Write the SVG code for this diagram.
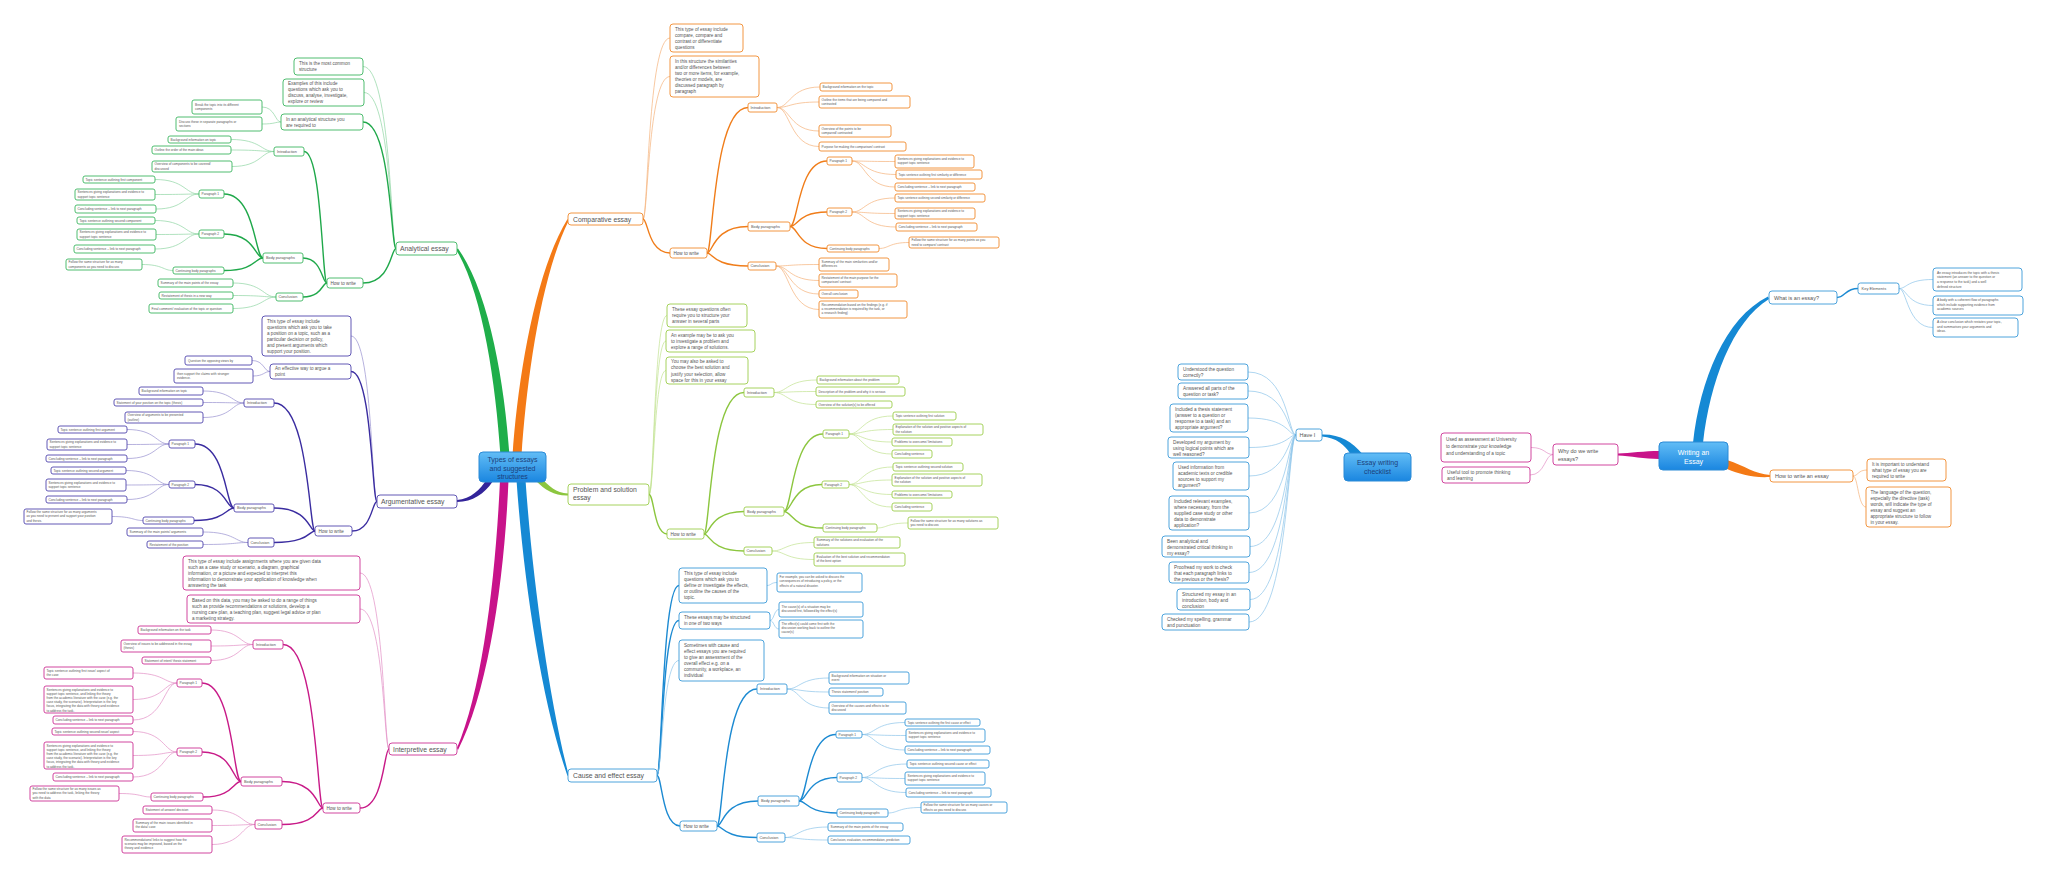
<svg xmlns="http://www.w3.org/2000/svg" width="2048" height="878" viewBox="0 0 2048 878">
<defs>
<linearGradient id="cgr" x1="0" y1="0" x2="0" y2="1"><stop offset="0" stop-color="#62bdf6"/><stop offset="1" stop-color="#1a86e0"/></linearGradient>
<style>
text{font-family:"Liberation Sans",Arial,sans-serif;fill:#555}
.b{fill:#fff;stroke-width:0.9}
.ctr{fill:url(#cgr);stroke:#2a8ad6;stroke-width:1}
.g{stroke:#3cb560}.o{stroke:#f08a2c}.n{stroke:#5046ad}.l{stroke:#9ccd4c}.m{stroke:#cc3194}.c{stroke:#3a9ad8}
.t1{font-size:6.8px}.t2{font-size:4.6px}.t3{font-size:3.8px}.t4{font-size:3.2px}.t5{font-size:3px}.t6{font-size:4.7px}.t7{font-size:5.5px}.t8{font-size:3.3px}.t9{font-size:4px}
.tc{font-size:7px;fill:#1c3f7a;text-anchor:middle}.tw{font-size:7px;fill:#fff;text-anchor:middle}
path{fill:none}
.Cg{stroke:#1fa84a;stroke-width:1.4}.Tg{stroke:#8fd6a3;stroke-width:0.7}
.Co{stroke:#f07d1a;stroke-width:1.4}.To{stroke:#f5b27a;stroke-width:0.7}
.Cn{stroke:#3a2ca0;stroke-width:1.4}.Tn{stroke:#9891d0;stroke-width:0.7}
.Cl{stroke:#8cc63f;stroke-width:1.4}.Tl{stroke:#c2e290;stroke-width:0.7}
.Cm{stroke:#c81a88;stroke-width:1.4}.Tm{stroke:#e38fc6;stroke-width:0.7}
.Cc{stroke:#1c8ad2;stroke-width:1.4}.Tc{stroke:#8cc4ea;stroke-width:0.7}
.Fg{fill:#1fae4a}.Fo{fill:#f47a16}.Fm{fill:#c8138a}.Fc{fill:#1589d4}.Fn{fill:#33249a}.Fl{fill:#8cc63f}
</style>
</defs>
<rect x="0" y="0" width="2048" height="878" fill="#fff"/>
<g id="connectors">
<!-- main branches -->
<path class="Fg" d="M500.5,456 C495.5,380 482,292 456,249.5 L458,248.5 C488,290 504.5,380 509.5,456 Z"/>
<path class="Fo" d="M512.5,456 C517.5,380 535,272 567.5,219 L568.5,221 C541,276 526.5,380 521.5,456 Z"/>
<path class="Fm" d="M500,480 C495.5,580 482,690 457,748 L458,750 C488,692 504.5,580 508.5,480 Z"/>
<path class="Fc" d="M516.5,480 C523.5,580 541,700 567.5,776 L568.5,774.5 C549,698 532.5,580 525.5,480 Z"/>
<path class="Fn" d="M487.5,478.3 C480,490 471,499 457,500 L457,502 C473,501.5 484,494 492.5,481.7 Z"/>
<path class="Fl" d="M540,477 C549,486 556,493 568,493.5 L568,495.5 C555,496 545,490 536,481 Z"/>
<path class="Fc" d="M1693,443 C1700,380 1725,318 1768,296.5 L1769,299 C1732,322 1710,382 1703,443 Z"/>
<path class="Fo" d="M1727,460 C1745,466 1755,474 1770,475 L1770,477 C1752,478 1740,474 1727,469 Z"/>
<path class="Fm" d="M1618,453.5 C1630,453 1645,451 1659,451 L1659,459 C1645,459 1630,456 1618,455.5 Z"/>
<path class="Fc" d="M1322,434.5 C1340,434 1352,442 1362,453.5 L1350,453.5 C1345,445 1336,437.5 1322,436.5 Z"/>
<!-- analytical -->
<path class="Tg" d="M396,248.5 C391,248.5 391,66.5 363,66.5"/>
<path class="Tg" d="M396,248.5 C391,248.5 391,92.5 364,92.5"/>
<path class="Cg" d="M396,248.5 C391,248.5 391,122 363,122"/>
<path class="Cg" d="M396,248.5 C391,248.5 391,283 363,283"/>
<path class="Tg" d="M281,122 C275,122 275,107 262,107"/>
<path class="Tg" d="M281,122 C275,122 275,124 262,124"/>
<path class="Cg" d="M327,283 C322,283 322,151.5 304,151.5"/>
<path class="Cg" d="M327,283 C322,283 322,258 303,258"/>
<path class="Cg" d="M327,283 C322,283 322,297 303,297"/>
<path class="Tg" d="M274,151.5 C261,151.5 261,139.5 231,139.5"/>
<path class="Tg" d="M274,151.5 C261,151.5 261,150 231,150"/>
<path class="Tg" d="M274,151.5 C261,151.5 261,166.5 232,166.5"/>
<path class="Cg" d="M263,258 C255,258 255,194 224,194"/>
<path class="Cg" d="M263,258 C255,258 255,234 224,234"/>
<path class="Cg" d="M263,258 C255,258 255,270.5 224,270.5"/>
<path class="Tg" d="M199,194 C185,194 185,179.5 155,179.5"/>
<path class="Tg" d="M199,194 C185,194 185,194.5 155,194.5"/>
<path class="Tg" d="M199,194 C185,194 185,209 156,209"/>
<path class="Tg" d="M199,234 C185,234 185,220.5 155,220.5"/>
<path class="Tg" d="M199,234 C185,234 185,234.5 156,234.5"/>
<path class="Tg" d="M199,234 C185,234 185,249 155,249"/>
<path class="Tg" d="M173,270.5 C163,270.5 163,264.5 142,264.5"/>
<path class="Tg" d="M276,297 C263,297 263,283 233,283"/>
<path class="Tg" d="M276,297 C263,297 263,295.5 233,295.5"/>
<path class="Tg" d="M276,297 C263,297 263,308.5 233,308.5"/>
<!-- argumentative -->
<path class="Tn" d="M377,501.5 C372,501.5 372,336 351,336"/>
<path class="Cn" d="M377,501.5 C372,501.5 372,371.5 351,371.5"/>
<path class="Cn" d="M377,501.5 C372,501.5 372,531 352,531"/>
<path class="Tn" d="M270,371.5 C264,371.5 264,360.5 252,360.5"/>
<path class="Tn" d="M270,371.5 C264,371.5 264,376 253,376"/>
<path class="Cn" d="M315,531 C309,531 309,403 274,403"/>
<path class="Cn" d="M315,531 C309,531 309,508 274,508"/>
<path class="Cn" d="M315,531 C309,531 309,542.5 274,542.5"/>
<path class="Tn" d="M244,403 C232,403 232,391 203,391"/>
<path class="Tn" d="M244,403 C232,403 232,402.5 203,402.5"/>
<path class="Tn" d="M244,403 C232,403 232,417.5 203,417.5"/>
<path class="Cn" d="M234,508 C226,508 226,444 195,444"/>
<path class="Cn" d="M234,508 C226,508 226,484.5 195,484.5"/>
<path class="Cn" d="M234,508 C226,508 226,520.5 194,520.5"/>
<path class="Tn" d="M169,444 C156,444 156,429.5 127,429.5"/>
<path class="Tn" d="M169,444 C156,444 156,444.5 127,444.5"/>
<path class="Tn" d="M169,444 C156,444 156,458.5 127,458.5"/>
<path class="Tn" d="M169,484.5 C156,484.5 156,470.5 126,470.5"/>
<path class="Tn" d="M169,484.5 C156,484.5 156,485 126,485"/>
<path class="Tn" d="M169,484.5 C156,484.5 156,499.5 127,499.5"/>
<path class="Tn" d="M143,520.5 C133,520.5 133,516.5 112,516.5"/>
<path class="Tn" d="M248,542.5 C235,542.5 235,532 203,532"/>
<path class="Tn" d="M248,542.5 C235,542.5 235,544.5 203,544.5"/>
<!-- interpretive -->
<path class="Tm" d="M389,749 C384,749 384,573 360,573"/>
<path class="Tm" d="M389,749 C384,749 384,609 360,609"/>
<path class="Cm" d="M389,749 C384,749 384,808 360,808"/>
<path class="Cm" d="M323,808 C317,808 317,644.5 283,644.5"/>
<path class="Cm" d="M323,808 C317,808 317,781.5 282,781.5"/>
<path class="Cm" d="M323,808 C317,808 317,824.5 282,824.5"/>
<path class="Tm" d="M253,644.5 C240,644.5 240,630 211,630"/>
<path class="Tm" d="M253,644.5 C240,644.5 240,646 211,646"/>
<path class="Tm" d="M253,644.5 C240,644.5 240,660.5 211,660.5"/>
<path class="Cm" d="M241,781.5 C233,781.5 233,683 202,683"/>
<path class="Cm" d="M241,781.5 C233,781.5 233,752 202,752"/>
<path class="Cm" d="M241,781.5 C233,781.5 233,797 203,797"/>
<path class="Tm" d="M177,683 C164,683 164,673 133,673"/>
<path class="Tm" d="M177,683 C164,683 164,699.5 133,699.5"/>
<path class="Tm" d="M177,683 C164,683 164,720 133,720"/>
<path class="Tm" d="M177,752 C164,752 164,731.5 133,731.5"/>
<path class="Tm" d="M177,752 C164,752 164,755.5 133,755.5"/>
<path class="Tm" d="M177,752 C164,752 164,777 133,777"/>
<path class="Tm" d="M151,797 C141,797 141,793.5 119,793.5"/>
<path class="Tm" d="M255,824.5 C242,824.5 242,810 212,810"/>
<path class="Tm" d="M255,824.5 C242,824.5 242,825.5 212,825.5"/>
<path class="Tm" d="M255,824.5 C242,824.5 242,844.5 212,844.5"/>
<!-- comparative -->
<path class="To" d="M643,219 C648,219 648,38 670,38"/>
<path class="To" d="M643,219 C648,219 648,76.5 670,76.5"/>
<path class="Co" d="M643,219 C648,219 648,253 670,253"/>
<path class="Co" d="M707,253 C713,253 713,107.5 748,107.5"/>
<path class="Co" d="M707,253 C713,253 713,226.5 748,226.5"/>
<path class="Co" d="M707,253 C713,253 713,266 748,266"/>
<path class="To" d="M777,107.5 C790,107.5 790,87 820,87"/>
<path class="To" d="M777,107.5 C790,107.5 790,102 819,102"/>
<path class="To" d="M777,107.5 C790,107.5 790,131 819,131"/>
<path class="To" d="M777,107.5 C790,107.5 790,146.5 819,146.5"/>
<path class="Co" d="M790,226.5 C798,226.5 798,161 827,161"/>
<path class="Co" d="M790,226.5 C798,226.5 798,212 827,212"/>
<path class="Co" d="M790,226.5 C798,226.5 798,248.5 827,248.5"/>
<path class="To" d="M852,161 C865,161 865,161.5 895,161.5"/>
<path class="To" d="M852,161 C865,161 865,174.5 896,174.5"/>
<path class="To" d="M852,161 C865,161 865,187 895,187"/>
<path class="To" d="M852,212 C865,212 865,198 895,198"/>
<path class="To" d="M852,212 C865,212 865,213.5 895,213.5"/>
<path class="To" d="M852,212 C865,212 865,227 896,227"/>
<path class="To" d="M879,248.5 C889,248.5 889,242.5 909,242.5"/>
<path class="To" d="M776,266 C789,266 789,264.5 819,264.5"/>
<path class="To" d="M776,266 C789,266 789,280.5 819,280.5"/>
<path class="To" d="M776,266 C789,266 789,294 819,294"/>
<path class="To" d="M776,266 C789,266 789,309.5 819,309.5"/>
<!-- problem -->
<path class="Tl" d="M649,494.5 C654,494.5 654,315.5 667,315.5"/>
<path class="Tl" d="M649,494.5 C654,494.5 654,341 666,341"/>
<path class="Tl" d="M649,494.5 C654,494.5 654,370.5 666,370.5"/>
<path class="Cl" d="M649,494.5 C654,494.5 654,534 667,534"/>
<path class="Cl" d="M704,534 C710,534 710,392.5 744,392.5"/>
<path class="Cl" d="M704,534 C710,534 710,511.5 744,511.5"/>
<path class="Cl" d="M704,534 C710,534 710,551 744,551"/>
<path class="Tl" d="M774,392.5 C787,392.5 787,380 817,380"/>
<path class="Tl" d="M774,392.5 C787,392.5 787,391.5 816,391.5"/>
<path class="Tl" d="M774,392.5 C787,392.5 787,404.5 816,404.5"/>
<path class="Cl" d="M784,511.5 C792,511.5 792,434 823,434"/>
<path class="Cl" d="M784,511.5 C792,511.5 792,484.5 822,484.5"/>
<path class="Cl" d="M784,511.5 C792,511.5 792,528 823,528"/>
<path class="Tl" d="M849,434 C862,434 862,416 893,416"/>
<path class="Tl" d="M849,434 C862,434 862,429.5 893,429.5"/>
<path class="Tl" d="M849,434 C862,434 862,442 892,442"/>
<path class="Tl" d="M849,434 C862,434 862,454 892,454"/>
<path class="Tl" d="M849,484.5 C862,484.5 862,467 893,467"/>
<path class="Tl" d="M849,484.5 C862,484.5 862,480 892,480"/>
<path class="Tl" d="M849,484.5 C862,484.5 862,494.5 892,494.5"/>
<path class="Tl" d="M849,484.5 C862,484.5 862,507 892,507"/>
<path class="Tl" d="M877,528 C887,528 887,523 908,523"/>
<path class="Tl" d="M772,551 C785,551 785,542.5 814,542.5"/>
<path class="Tl" d="M772,551 C785,551 785,559.5 814,559.5"/>
<!-- cause and effect -->
<path class="Cc" d="M657,775.5 C662,775.5 662,585.5 679,585.5"/>
<path class="Cc" d="M657,775.5 C662,775.5 662,620.5 679,620.5"/>
<path class="Tc" d="M657,775.5 C662,775.5 662,660.5 679,660.5"/>
<path class="Cc" d="M657,775.5 C662,775.5 662,826 680,826"/>
<path class="Tc" d="M767,585.5 C771,585.5 771,582.5 777,582.5"/>
<path class="Tc" d="M770,620.5 C774,620.5 774,609.5 779,609.5"/>
<path class="Tc" d="M770,620.5 C774,620.5 774,629 779,629"/>
<path class="Cc" d="M717,826 C723,826 723,689 757,689"/>
<path class="Cc" d="M717,826 C723,826 723,801 758,801"/>
<path class="Cc" d="M717,826 C723,826 723,837.5 757,837.5"/>
<path class="Tc" d="M787,689 C800,689 800,678 829,678"/>
<path class="Tc" d="M787,689 C800,689 800,692 829,692"/>
<path class="Tc" d="M787,689 C800,689 800,708 829,708"/>
<path class="Cc" d="M799,801 C807,801 807,734.5 836,734.5"/>
<path class="Cc" d="M799,801 C807,801 807,777.5 837,777.5"/>
<path class="Cc" d="M799,801 C807,801 807,813 837,813"/>
<path class="Tc" d="M862,734.5 C875,734.5 875,722.5 905,722.5"/>
<path class="Tc" d="M862,734.5 C875,734.5 875,735.5 906,735.5"/>
<path class="Tc" d="M862,734.5 C875,734.5 875,750 905,750"/>
<path class="Tc" d="M862,777.5 C875,777.5 875,764 907,764"/>
<path class="Tc" d="M862,777.5 C875,777.5 875,778.5 905,778.5"/>
<path class="Tc" d="M862,777.5 C875,777.5 875,792.5 906,792.5"/>
<path class="Tc" d="M888,813 C898,813 898,807.5 921,807.5"/>
<path class="Tc" d="M785,837.5 C798,837.5 798,827 828,827"/>
<path class="Tc" d="M785,837.5 C798,837.5 798,840 828,840"/>
<!-- checklist -->
<path class="Tc" d="M1296,435 C1288,435 1288,372 1248,372"/>
<path class="Tc" d="M1296,435 C1288,435 1288,391 1248,391"/>
<path class="Tc" d="M1296,435 C1288,435 1288,418 1248,418"/>
<path class="Tc" d="M1296,435 C1288,435 1288,447.5 1249,447.5"/>
<path class="Tc" d="M1296,435 C1288,435 1288,476 1249,476"/>
<path class="Tc" d="M1296,435 C1288,435 1288,513 1249,513"/>
<path class="Tc" d="M1296,435 C1288,435 1288,546.5 1250,546.5"/>
<path class="Tc" d="M1296,435 C1288,435 1288,572.5 1249,572.5"/>
<path class="Tc" d="M1296,435 C1288,435 1288,599.5 1250,599.5"/>
<path class="Tc" d="M1296,435 C1288,435 1288,622 1249,622"/>
<!-- writing an essay -->
<path class="Cc" d="M1837,297.5 C1845,297.5 1845,288.5 1858,288.5"/>
<path class="Tc" d="M1899,288.5 C1907,288.5 1907,279.5 1933,279.5"/>
<path class="Tc" d="M1899,288.5 C1907,288.5 1907,305.5 1933,305.5"/>
<path class="Tc" d="M1899,288.5 C1907,288.5 1907,327.5 1933,327.5"/>
<path class="To" d="M1853,476 C1858,476 1858,470 1867,470"/>
<path class="To" d="M1853,476 C1858,476 1858,507 1866,507"/>
<path class="Tm" d="M1553,454.5 C1545,454.5 1545,447.5 1531,447.5"/>
<path class="Tm" d="M1553,454.5 C1545,454.5 1545,475 1530,475"/>
</g>

<g id="types"><rect class="ctr" x="479" y="452" width="67" height="30" rx="4"/><text class="tc" x="512.5" y="462"><tspan x="512.5">Types of essays</tspan><tspan x="512.5" dy="8.5">and suggested</tspan><tspan x="512.5" dy="8.5">structures</tspan></text></g>

<!-- ANALYTICAL -->
<g id="analytical"><rect class="b g" x="396" y="242" width="61" height="13" rx="3"/><text class="t1" x="400" y="251">Analytical essay</text></g>
<g id="an-n1"><rect class="b g" x="294" y="58" width="69" height="17" rx="3"/><text class="t2" x="299" y="65"><tspan x="299">This is the most common</tspan><tspan x="299" dy="6">structure</tspan></text></g>
<g id="an-n2"><rect class="b g" x="283" y="79" width="81" height="27" rx="3"/><text class="t2" x="288" y="85"><tspan x="288">Examples of this include</tspan><tspan x="288" dy="6">questions which ask you to</tspan><tspan x="288" dy="6">discuss, analyse, investigate,</tspan><tspan x="288" dy="6">explore or review</tspan></text></g>
<g id="an-n3"><rect class="b g" x="281" y="114" width="82" height="16" rx="3"/><text class="t2" x="286" y="120.5"><tspan x="286">In an analytical structure you</tspan><tspan x="286" dy="6">are required to</tspan></text></g>
<g id="an-n3a"><rect class="b g" x="192" y="100" width="70" height="14" rx="2"/><text class="t4" x="195" y="105.5"><tspan x="195">Break the topic into its different</tspan><tspan x="195" dy="4.3">components</tspan></text></g>
<g id="an-n3b"><rect class="b g" x="176" y="117" width="86" height="14" rx="2"/><text class="t4" x="179" y="122.5"><tspan x="179">Discuss these in separate paragraphs or</tspan><tspan x="179" dy="4.3">sections</tspan></text></g>
<g id="an-how"><rect class="b g" x="327" y="278" width="36" height="10" rx="2.5"/><text class="t2" x="330.5" y="284.7">How to write</text></g>
<g id="an-intro"><rect class="b g" x="274" y="147" width="30" height="9" rx="2"/><text class="t3" x="277" y="152.8">Introduction</text></g>
<g id="an-i1"><rect class="b g" x="168" y="136" width="63" height="7" rx="2"/><text class="t4" x="170.5" y="140.7">Background information on topic</text></g>
<g id="an-i2"><rect class="b g" x="152" y="146" width="79" height="8" rx="2"/><text class="t4" x="154.5" y="151.2">Outline the order of the main ideas</text></g>
<g id="an-i3"><rect class="b g" x="152" y="161" width="80" height="11" rx="2"/><text class="t4" x="154.5" y="165.3"><tspan x="154.5">Overview of components to be covered/</tspan><tspan x="154.5" dy="4.3">discussed</tspan></text></g>
<g id="an-body"><rect class="b g" x="263" y="253" width="40" height="10" rx="2"/><text class="t3" x="266" y="259.3">Body paragraphs</text></g>
<g id="an-p1"><rect class="b g" x="199" y="190" width="25" height="8" rx="2"/><text class="t4" x="201.5" y="195.2">Paragraph 1</text></g>
<g id="an-p1a"><rect class="b g" x="83" y="176" width="72" height="7" rx="2"/><text class="t4" x="85.5" y="180.7">Topic sentence outlining first component</text></g>
<g id="an-p1b"><rect class="b g" x="75" y="189" width="80" height="11" rx="2"/><text class="t4" x="77.5" y="193.3"><tspan x="77.5">Sentences giving explanations and evidence to</tspan><tspan x="77.5" dy="4.3">support topic sentence</tspan></text></g>
<g id="an-p1c"><rect class="b g" x="75" y="205" width="81" height="8" rx="2"/><text class="t4" x="77.5" y="210.2">Concluding sentence – link to next paragraph</text></g>
<g id="an-p2"><rect class="b g" x="199" y="230" width="25" height="8" rx="2"/><text class="t4" x="201.5" y="235.2">Paragraph 2</text></g>
<g id="an-p2a"><rect class="b g" x="77" y="217" width="78" height="7" rx="2"/><text class="t4" x="79.5" y="221.7">Topic sentence outlining second component</text></g>
<g id="an-p2b"><rect class="b g" x="77" y="229" width="79" height="11" rx="2"/><text class="t4" x="79.5" y="233.3"><tspan x="79.5">Sentences giving explanations and evidence to</tspan><tspan x="79.5" dy="4.3">support topic sentence</tspan></text></g>
<g id="an-p2c"><rect class="b g" x="74" y="245" width="81" height="8" rx="2"/><text class="t4" x="76.5" y="250.2">Concluding sentence – link to next paragraph</text></g>
<g id="an-cont"><rect class="b g" x="173" y="267" width="51" height="7" rx="2"/><text class="t4" x="175.5" y="271.7">Continuing body paragraphs</text></g>
<g id="an-conta"><rect class="b g" x="66" y="259" width="76" height="11" rx="2"/><text class="t4" x="68.5" y="263.3"><tspan x="68.5">Follow the same structure for as many</tspan><tspan x="68.5" dy="4.3">components as you need to discuss</tspan></text></g>
<g id="an-concl"><rect class="b g" x="276" y="293" width="27" height="8" rx="2"/><text class="t3" x="278.5" y="298.4">Conclusion</text></g>
<g id="an-c1"><rect class="b g" x="158" y="279" width="75" height="8" rx="2"/><text class="t4" x="160.5" y="284.2">Summary of the main points of the essay</text></g>
<g id="an-c2"><rect class="b g" x="159" y="292" width="74" height="7" rx="2"/><text class="t4" x="161.5" y="296.7">Restatement of thesis in a new way</text></g>
<g id="an-c3"><rect class="b g" x="149" y="304" width="84" height="9" rx="2"/><text class="t4" x="151.5" y="309.7">Final comment/ evaluation of the topic or question</text></g>

<!-- ARGUMENTATIVE -->
<g id="argumentative"><rect class="b n" x="377" y="495" width="80" height="13" rx="3"/><text class="t1" x="381" y="504">Argumentative essay</text></g>
<g id="ar-n1"><rect class="b n" x="262" y="316" width="89" height="40" rx="3"/><text class="t2" x="267" y="322.5"><tspan x="267">This type of essay include</tspan><tspan x="267" dy="6">questions which ask you to take</tspan><tspan x="267" dy="6">a position on a topic, such as a</tspan><tspan x="267" dy="6">particular decision or policy,</tspan><tspan x="267" dy="6">and present arguments which</tspan><tspan x="267" dy="6">support your position.</tspan></text></g>
<g id="ar-n2"><rect class="b n" x="270" y="364" width="81" height="15" rx="3"/><text class="t2" x="275" y="370"><tspan x="275">An effective way to argue a</tspan><tspan x="275" dy="6">point</tspan></text></g>
<g id="ar-n2a"><rect class="b n" x="185" y="356" width="67" height="9" rx="2"/><text class="t4" x="188" y="361.7">Question the opposing views by</text></g>
<g id="ar-n2b"><rect class="b n" x="174" y="369" width="79" height="14" rx="2"/><text class="t4" x="177" y="374.5"><tspan x="177">then support the claims with stronger</tspan><tspan x="177" dy="4.3">evidence.</tspan></text></g>
<g id="ar-how"><rect class="b n" x="315" y="526" width="37" height="10" rx="2.5"/><text class="t2" x="318.5" y="532.7">How to write</text></g>
<g id="ar-intro"><rect class="b n" x="244" y="399" width="30" height="8" rx="2"/><text class="t3" x="247" y="404.4">Introduction</text></g>
<g id="ar-i1"><rect class="b n" x="139" y="387" width="64" height="8" rx="2"/><text class="t4" x="141.5" y="392.2">Background information on topic</text></g>
<g id="ar-i2"><rect class="b n" x="114" y="399" width="89" height="7" rx="2"/><text class="t4" x="116.5" y="403.7">Statement of your position on the topic (thesis)</text></g>
<g id="ar-i3"><rect class="b n" x="125" y="412" width="78" height="11" rx="2"/><text class="t4" x="127.5" y="416.3"><tspan x="127.5">Overview of arguments to be presented</tspan><tspan x="127.5" dy="4.3">(outline)</tspan></text></g>
<g id="ar-body"><rect class="b n" x="234" y="504" width="40" height="8" rx="2"/><text class="t3" x="237" y="509.4">Body paragraphs</text></g>
<g id="ar-p1"><rect class="b n" x="169" y="440" width="26" height="8" rx="2"/><text class="t4" x="171.5" y="445.2">Paragraph 1</text></g>
<g id="ar-p1a"><rect class="b n" x="58" y="426" width="69" height="7" rx="2"/><text class="t4" x="60.5" y="430.7">Topic sentence outlining first argument</text></g>
<g id="ar-p1b"><rect class="b n" x="47" y="439" width="80" height="11" rx="2"/><text class="t4" x="49.5" y="443.3"><tspan x="49.5">Sentences giving explanations and evidence to</tspan><tspan x="49.5" dy="4.3">support topic sentence</tspan></text></g>
<g id="ar-p1c"><rect class="b n" x="46" y="455" width="81" height="7" rx="2"/><text class="t4" x="48.5" y="459.7">Concluding sentence – link to next paragraph</text></g>
<g id="ar-p2"><rect class="b n" x="169" y="481" width="26" height="7" rx="2"/><text class="t4" x="171.5" y="485.7">Paragraph 2</text></g>
<g id="ar-p2a"><rect class="b n" x="51" y="467" width="75" height="7" rx="2"/><text class="t4" x="53.5" y="471.7">Topic sentence outlining second argument</text></g>
<g id="ar-p2b"><rect class="b n" x="46" y="479" width="80" height="12" rx="2"/><text class="t4" x="48.5" y="483.8"><tspan x="48.5">Sentences giving explanations and evidence to</tspan><tspan x="48.5" dy="4.3">support topic sentence</tspan></text></g>
<g id="ar-p2c"><rect class="b n" x="46" y="496" width="81" height="7" rx="2"/><text class="t4" x="48.5" y="500.7">Concluding sentence – link to next paragraph</text></g>
<g id="ar-cont"><rect class="b n" x="143" y="517" width="51" height="7" rx="2"/><text class="t4" x="145.5" y="521.7">Continuing body paragraphs</text></g>
<g id="ar-conta"><rect class="b n" x="24" y="509" width="88" height="15" rx="2"/><text class="t4" x="26.5" y="513"><tspan x="26.5">Follow the same structure for as many arguments</tspan><tspan x="26.5" dy="4.3">as you need to present and support your position</tspan><tspan x="26.5" dy="4.3">and thesis.</tspan></text></g>
<g id="ar-concl"><rect class="b n" x="248" y="538" width="26" height="9" rx="2"/><text class="t3" x="250.5" y="543.9">Conclusion</text></g>
<g id="ar-c1"><rect class="b n" x="127" y="528" width="76" height="8" rx="2"/><text class="t4" x="129.5" y="533.2">Summary of the main points/ arguments</text></g>
<g id="ar-c2"><rect class="b n" x="147" y="541" width="56" height="7" rx="2"/><text class="t4" x="149.5" y="545.7">Restatement of the position</text></g>

<!-- INTERPRETIVE -->
<g id="interpretive"><rect class="b m" x="389" y="743" width="68" height="12" rx="3"/><text class="t1" x="393" y="751.5">Interpretive essay</text></g>
<g id="in-n1"><rect class="b m" x="183" y="556" width="177" height="34" rx="3"/><text class="t2" x="188" y="562.5"><tspan x="188">This type of essay include assignments where you are given data</tspan><tspan x="188" dy="6">such as a case study or scenario, a diagram,  graphical</tspan><tspan x="188" dy="6">information, or a picture and expected to interpret this</tspan><tspan x="188" dy="6">information to demonstrate your application of knowledge when</tspan><tspan x="188" dy="6">answering the task</tspan></text></g>
<g id="in-n2"><rect class="b m" x="187" y="595" width="173" height="28" rx="3"/><text class="t2" x="192" y="601.5"><tspan x="192">Based on this data, you may be asked to do a range of things</tspan><tspan x="192" dy="6">such as provide recommendations or solutions, develop a</tspan><tspan x="192" dy="6">nursing care plan, a teaching plan, suggest legal advice or plan</tspan><tspan x="192" dy="6">a marketing strategy.</tspan></text></g>
<g id="in-how"><rect class="b m" x="323" y="803" width="37" height="10" rx="2.5"/><text class="t2" x="326.5" y="809.7">How to write</text></g>
<g id="in-intro"><rect class="b m" x="253" y="640" width="30" height="9" rx="2"/><text class="t3" x="256" y="645.8">Introduction</text></g>
<g id="in-i1"><rect class="b m" x="138" y="626" width="73" height="8" rx="2"/><text class="t4" x="140.5" y="631.2">Background information on the task</text></g>
<g id="in-i2"><rect class="b m" x="121" y="640" width="90" height="12" rx="2"/><text class="t4" x="123.5" y="644.5"><tspan x="123.5">Overview of issues to be addressed in the essay</tspan><tspan x="123.5" dy="4.3">(thesis)</tspan></text></g>
<g id="in-i3"><rect class="b m" x="142" y="657" width="69" height="7" rx="2"/><text class="t4" x="144.5" y="661.7">Statement of intent/ thesis statement</text></g>
<g id="in-body"><rect class="b m" x="241" y="777" width="41" height="9" rx="2"/><text class="t3" x="244" y="782.8">Body paragraphs</text></g>
<g id="in-p1"><rect class="b m" x="177" y="679" width="25" height="8" rx="2"/><text class="t4" x="179.5" y="684.2">Paragraph 1</text></g>
<g id="in-p1a"><rect class="b m" x="44" y="667" width="89" height="12" rx="2"/><text class="t4" x="46.5" y="671.5"><tspan x="46.5">Topic sentence outlining first issue/ aspect of</tspan><tspan x="46.5" dy="4.3">the case</tspan></text></g>
<g id="in-p1b"><rect class="b m" x="44" y="686" width="89" height="27" rx="2"/><text class="t4" x="46.5" y="690.5"><tspan x="46.5">Sentences giving explanations and evidence to</tspan><tspan x="46.5" dy="4.2">support topic sentence, and linking the theory</tspan><tspan x="46.5" dy="4.2">from the academic literature with the case (e.g. the</tspan><tspan x="46.5" dy="4.2">case study, the scenario). Interpretation is the key</tspan><tspan x="46.5" dy="4.2">focus, integrating the data with theory and evidence</tspan><tspan x="46.5" dy="4.2">to address the task.</tspan></text></g>
<g id="in-p1c"><rect class="b m" x="53" y="716" width="80" height="8" rx="2"/><text class="t4" x="55.5" y="721.2">Concluding sentence – link to next paragraph</text></g>
<g id="in-p2"><rect class="b m" x="177" y="748" width="25" height="8" rx="2"/><text class="t4" x="179.5" y="753.2">Paragraph 2</text></g>
<g id="in-p2a"><rect class="b m" x="52" y="728" width="81" height="7" rx="2"/><text class="t4" x="54.5" y="732.7">Topic sentence outlining second issue/ aspect</text></g>
<g id="in-p2b"><rect class="b m" x="44" y="742" width="89" height="27" rx="2"/><text class="t4" x="46.5" y="746.5"><tspan x="46.5">Sentences giving explanations and evidence to</tspan><tspan x="46.5" dy="4.2">support topic sentence, and linking the theory</tspan><tspan x="46.5" dy="4.2">from the academic literature with the case (e.g. the</tspan><tspan x="46.5" dy="4.2">case study, the scenario). Interpretation is the key</tspan><tspan x="46.5" dy="4.2">focus, integrating the data with theory and evidence</tspan><tspan x="46.5" dy="4.2">to address the task.</tspan></text></g>
<g id="in-p2c"><rect class="b m" x="53" y="773" width="80" height="8" rx="2"/><text class="t4" x="55.5" y="778.2">Concluding sentence – link to next paragraph</text></g>
<g id="in-cont"><rect class="b m" x="151" y="793" width="52" height="8" rx="2"/><text class="t4" x="153.5" y="798.2">Continuing body paragraphs</text></g>
<g id="in-conta"><rect class="b m" x="30" y="786" width="89" height="15" rx="2"/><text class="t4" x="32.5" y="790"><tspan x="32.5">Follow the same structure for as many issues as</tspan><tspan x="32.5" dy="4.3">you need to address the task, linking the theory</tspan><tspan x="32.5" dy="4.3">with the data</tspan></text></g>
<g id="in-concl"><rect class="b m" x="255" y="820" width="27" height="9" rx="2"/><text class="t3" x="257.5" y="825.8">Conclusion</text></g>
<g id="in-c1"><rect class="b m" x="143" y="806" width="69" height="8" rx="2"/><text class="t4" x="145.5" y="811.2">Statement of answer/ decision</text></g>
<g id="in-c2"><rect class="b m" x="133" y="819" width="79" height="13" rx="2"/><text class="t4" x="135.5" y="823.8"><tspan x="135.5">Summary of the main issues identified in</tspan><tspan x="135.5" dy="4.3">the data/ case</tspan></text></g>
<g id="in-c3"><rect class="b m" x="122" y="836" width="90" height="17" rx="2"/><text class="t4" x="124.5" y="840.5"><tspan x="124.5">Recommendations/ links to suggest how the</tspan><tspan x="124.5" dy="4.3">scenario may be improved, based on the</tspan><tspan x="124.5" dy="4.3">theory and evidence</tspan></text></g>

<!-- COMPARATIVE -->
<g id="comparative"><rect class="b o" x="568" y="213" width="75" height="12" rx="3"/><text class="t1" x="573" y="221.5">Comparative essay</text></g>
<g id="co-n1"><rect class="b o" x="670" y="24" width="73" height="28" rx="3"/><text class="t2" x="675" y="30.5"><tspan x="675">This type of essay include</tspan><tspan x="675" dy="6">compare, compare and</tspan><tspan x="675" dy="6">contrast or differentiate</tspan><tspan x="675" dy="6">questions</tspan></text></g>
<g id="co-n2"><rect class="b o" x="670" y="56" width="89" height="41" rx="3"/><text class="t2" x="675" y="62.5"><tspan x="675">In this structure the similarities</tspan><tspan x="675" dy="6">and/or differences between</tspan><tspan x="675" dy="6">two or more items, for example,</tspan><tspan x="675" dy="6">theories or models, are</tspan><tspan x="675" dy="6">discussed paragraph by</tspan><tspan x="675" dy="6">paragraph</tspan></text></g>
<g id="co-how"><rect class="b o" x="670" y="248" width="37" height="10" rx="2.5"/><text class="t2" x="673.5" y="254.7">How to write</text></g>
<g id="co-intro"><rect class="b o" x="748" y="103" width="29" height="9" rx="2"/><text class="t3" x="750.5" y="108.8">Introduction</text></g>
<g id="co-i1"><rect class="b o" x="820" y="83" width="72" height="8" rx="2"/><text class="t4" x="822.5" y="88.2">Background information on the topic</text></g>
<g id="co-i2"><rect class="b o" x="819" y="96" width="91" height="12" rx="2"/><text class="t4" x="821.5" y="100.5"><tspan x="821.5">Outline the items that are being compared and</tspan><tspan x="821.5" dy="4.3">contrasted</tspan></text></g>
<g id="co-i3"><rect class="b o" x="819" y="125" width="72" height="12" rx="2"/><text class="t4" x="821.5" y="129.5"><tspan x="821.5">Overview of the points to be</tspan><tspan x="821.5" dy="4.3">compared/ contrasted</tspan></text></g>
<g id="co-i4"><rect class="b o" x="819" y="142" width="87" height="9" rx="2"/><text class="t4" x="821.5" y="147.7">Purpose for making the comparison/ contrast</text></g>
<g id="co-body"><rect class="b o" x="748" y="222" width="42" height="9" rx="2"/><text class="t3" x="751" y="227.8">Body paragraphs</text></g>
<g id="co-p1"><rect class="b o" x="827" y="157" width="25" height="8" rx="2"/><text class="t4" x="829.5" y="162.2">Paragraph 1</text></g>
<g id="co-p1a"><rect class="b o" x="895" y="155" width="79" height="13" rx="2"/><text class="t4" x="897.5" y="159.8"><tspan x="897.5">Sentences giving explanations and evidence to</tspan><tspan x="897.5" dy="4.3">support topic sentence</tspan></text></g>
<g id="co-p1b"><rect class="b o" x="896" y="170" width="86" height="9" rx="2"/><text class="t5" x="898.5" y="175.6">Topic sentence outlining first similarity or difference</text></g>
<g id="co-p1c"><rect class="b o" x="895" y="183" width="80" height="8" rx="2"/><text class="t4" x="897.5" y="188.2">Concluding sentence – link to next paragraph</text></g>
<g id="co-p2"><rect class="b o" x="827" y="208" width="25" height="8" rx="2"/><text class="t4" x="829.5" y="213.2">Paragraph 2</text></g>
<g id="co-p2a"><rect class="b o" x="895" y="194" width="90" height="8" rx="2"/><text class="t5" x="897.5" y="199.1">Topic sentence outlining second similarity or difference</text></g>
<g id="co-p2b"><rect class="b o" x="895" y="208" width="80" height="11" rx="2"/><text class="t4" x="897.5" y="212.3"><tspan x="897.5">Sentences giving explanations and evidence to</tspan><tspan x="897.5" dy="4.3">support topic sentence</tspan></text></g>
<g id="co-p2c"><rect class="b o" x="896" y="223" width="81" height="8" rx="2"/><text class="t4" x="898.5" y="228.2">Concluding sentence – link to next paragraph</text></g>
<g id="co-cont"><rect class="b o" x="827" y="245" width="52" height="7" rx="2"/><text class="t4" x="829.5" y="249.7">Continuing body paragraphs</text></g>
<g id="co-conta"><rect class="b o" x="909" y="237" width="90" height="11" rx="2"/><text class="t4" x="911.5" y="241.3"><tspan x="911.5">Follow the same structure for as many points as you</tspan><tspan x="911.5" dy="4.3">need to compare/ contrast</tspan></text></g>
<g id="co-concl"><rect class="b o" x="748" y="262" width="28" height="8" rx="2"/><text class="t3" x="750.5" y="267.4">Conclusion</text></g>
<g id="co-c1"><rect class="b o" x="819" y="258" width="70" height="13" rx="2"/><text class="t4" x="821.5" y="262.8"><tspan x="821.5">Summary of the main similarities and/or</tspan><tspan x="821.5" dy="4.3">differences</tspan></text></g>
<g id="co-c2"><rect class="b o" x="819" y="274" width="78" height="13" rx="2"/><text class="t4" x="821.5" y="278.8"><tspan x="821.5">Restatement of the main purpose for the</tspan><tspan x="821.5" dy="4.3">comparison/ contrast</tspan></text></g>
<g id="co-c3"><rect class="b o" x="819" y="290" width="39" height="8" rx="2"/><text class="t4" x="821.5" y="295.2">Overall conclusion</text></g>
<g id="co-c4"><rect class="b o" x="819" y="301" width="88" height="17" rx="2"/><text class="t4" x="821.5" y="305.5"><tspan x="821.5">Recommendation based on the findings (e.g. if</tspan><tspan x="821.5" dy="4.3">a recommendation is required by the task, or</tspan><tspan x="821.5" dy="4.3">a research finding)</tspan></text></g>

<!-- PROBLEM AND SOLUTION -->
<g id="problem"><rect class="b l" x="568" y="484" width="81" height="21" rx="3"/><text class="t1" x="573" y="492"><tspan x="573">Problem and solution</tspan><tspan x="573" dy="8">essay</tspan></text></g>
<g id="pr-n1"><rect class="b l" x="667" y="304" width="80" height="23" rx="3"/><text class="t2" x="672" y="310.5"><tspan x="672">These essay questions often</tspan><tspan x="672" dy="6.3">require you to structure your</tspan><tspan x="672" dy="6.3">answer in several parts</tspan></text></g>
<g id="pr-n2"><rect class="b l" x="666" y="330" width="89" height="22" rx="3"/><text class="t2" x="671" y="336.5"><tspan x="671">An example may be to ask  you</tspan><tspan x="671" dy="6.3">to investigate a problem and</tspan><tspan x="671" dy="6.3">explore a range of solutions.</tspan></text></g>
<g id="pr-n3"><rect class="b l" x="666" y="357" width="82" height="27" rx="3"/><text class="t2" x="671" y="363"><tspan x="671">You may also be asked to</tspan><tspan x="671" dy="6.3">choose the best solution and</tspan><tspan x="671" dy="6.3">justify your selection, allow</tspan><tspan x="671" dy="6.3">space for this in your essay</tspan></text></g>
<g id="pr-how"><rect class="b l" x="667" y="529" width="37" height="10" rx="2.5"/><text class="t2" x="670.5" y="535.7">How to write</text></g>
<g id="pr-intro"><rect class="b l" x="744" y="388" width="30" height="9" rx="2"/><text class="t3" x="747" y="393.8">Introduction</text></g>
<g id="pr-i1"><rect class="b l" x="817" y="376" width="82" height="8" rx="2"/><text class="t4" x="819.5" y="381.2">Background information about the problem</text></g>
<g id="pr-i2"><rect class="b l" x="816" y="387" width="89" height="9" rx="2"/><text class="t4" x="818.5" y="392.7">Description of the problem and why it is serious</text></g>
<g id="pr-i3"><rect class="b l" x="816" y="401" width="76" height="7" rx="2"/><text class="t4" x="818.5" y="405.7">Overview of the solution(s) to be offered</text></g>
<g id="pr-body"><rect class="b l" x="744" y="507" width="40" height="9" rx="2"/><text class="t3" x="747" y="512.8">Body paragraphs</text></g>
<g id="pr-p1"><rect class="b l" x="823" y="430" width="26" height="8" rx="2"/><text class="t4" x="825.5" y="435.2">Paragraph 1</text></g>
<g id="pr-p1a"><rect class="b l" x="893" y="412" width="63" height="8" rx="2"/><text class="t5" x="895.5" y="417.1">Topic sentence outlining first solution</text></g>
<g id="pr-p1b"><rect class="b l" x="893" y="424" width="90" height="11" rx="2"/><text class="t4" x="895.5" y="428.3"><tspan x="895.5">Explanation of the solution and positive aspects of</tspan><tspan x="895.5" dy="4.3">the solution</tspan></text></g>
<g id="pr-p1c"><rect class="b l" x="892" y="438" width="60" height="8" rx="2"/><text class="t4" x="894.5" y="443.2">Problems to overcome/ limitations</text></g>
<g id="pr-p1d"><rect class="b l" x="892" y="450" width="40" height="8" rx="2"/><text class="t4" x="894.5" y="455.2">Concluding sentence</text></g>
<g id="pr-p2"><rect class="b l" x="822" y="481" width="27" height="7" rx="2"/><text class="t4" x="824.5" y="485.7">Paragraph 2</text></g>
<g id="pr-p2a"><rect class="b l" x="893" y="463" width="70" height="8" rx="2"/><text class="t4" x="895.5" y="468.2">Topic sentence outlining second solution</text></g>
<g id="pr-p2b"><rect class="b l" x="892" y="474" width="90" height="12" rx="2"/><text class="t4" x="894.5" y="478.5"><tspan x="894.5">Explanation of the solution and positive aspects of</tspan><tspan x="894.5" dy="4.3">the solution</tspan></text></g>
<g id="pr-p2c"><rect class="b l" x="892" y="491" width="60" height="7" rx="2"/><text class="t4" x="894.5" y="495.7">Problems to overcome/ limitations</text></g>
<g id="pr-p2d"><rect class="b l" x="892" y="503" width="40" height="8" rx="2"/><text class="t4" x="894.5" y="508.2">Concluding sentence</text></g>
<g id="pr-cont"><rect class="b l" x="823" y="524" width="54" height="8" rx="2"/><text class="t4" x="825.5" y="529.2">Continuing body paragraphs</text></g>
<g id="pr-conta"><rect class="b l" x="908" y="517" width="90" height="12" rx="2"/><text class="t4" x="910.5" y="521.5"><tspan x="910.5">Follow the same structure for as many solutions as</tspan><tspan x="910.5" dy="4.3">you need to discuss</tspan></text></g>
<g id="pr-concl"><rect class="b l" x="744" y="547" width="28" height="8" rx="2"/><text class="t3" x="746.5" y="552.4">Conclusion</text></g>
<g id="pr-c1"><rect class="b l" x="814" y="537" width="86" height="11" rx="2"/><text class="t4" x="816.5" y="541.3"><tspan x="816.5">Summary of the solutions and evaluation of the</tspan><tspan x="816.5" dy="4.3">solutions</tspan></text></g>
<g id="pr-c2"><rect class="b l" x="814" y="553" width="91" height="13" rx="2"/><text class="t4" x="816.5" y="557.8"><tspan x="816.5">Evaluation of the best solution and recommendation</tspan><tspan x="816.5" dy="4.3">of the best option</tspan></text></g>

<!-- CAUSE AND EFFECT -->
<g id="cause"><rect class="b c" x="568" y="769" width="89" height="13" rx="3"/><text class="t1" x="573" y="778">Cause and effect essay</text></g>
<g id="ce-n1"><rect class="b c" x="679" y="568" width="88" height="35" rx="3"/><text class="t2" x="684" y="574.5"><tspan x="684">This type of essay include</tspan><tspan x="684" dy="6.2">questions which ask you to</tspan><tspan x="684" dy="6.2">define or investigate the effects,</tspan><tspan x="684" dy="6.2">or outline the causes of the</tspan><tspan x="684" dy="6.2">topic.</tspan></text></g>
<g id="ce-n1a"><rect class="b c" x="777" y="573" width="85" height="19" rx="2"/><text class="t4" x="779.5" y="578"><tspan x="779.5">For example, you can be asked to discuss the</tspan><tspan x="779.5" dy="4.3">consequences of introducing a policy, or the</tspan><tspan x="779.5" dy="4.3">effects of a natural disaster.</tspan></text></g>
<g id="ce-n2"><rect class="b c" x="679" y="612" width="91" height="17" rx="3"/><text class="t2" x="684" y="618.5"><tspan x="684">These essays may be structured</tspan><tspan x="684" dy="6">in one of two ways</tspan></text></g>
<g id="ce-n2a"><rect class="b c" x="779" y="602" width="84" height="15" rx="2"/><text class="t4" x="781.5" y="607.5"><tspan x="781.5">The cause(s) of a situation may be</tspan><tspan x="781.5" dy="4.3">discussed first, followed by the effect(s)</tspan></text></g>
<g id="ce-n2b"><rect class="b c" x="779" y="620" width="84" height="18" rx="2"/><text class="t4" x="781.5" y="624.5"><tspan x="781.5">The effect(s) could come first with the</tspan><tspan x="781.5" dy="4.3">discussion working back to outline the</tspan><tspan x="781.5" dy="4.3">cause(s)</tspan></text></g>
<g id="ce-n3"><rect class="b c" x="679" y="640" width="85" height="41" rx="3"/><text class="t2" x="684" y="646.5"><tspan x="684">Sometimes with cause and</tspan><tspan x="684" dy="6">effect essays you are required</tspan><tspan x="684" dy="6">to give an assessment of the</tspan><tspan x="684" dy="6">overall effect e.g. on a</tspan><tspan x="684" dy="6">community, a workplace, an</tspan><tspan x="684" dy="6">individual</tspan></text></g>
<g id="ce-how"><rect class="b c" x="680" y="821" width="37" height="10" rx="2.5"/><text class="t2" x="683.5" y="827.7">How to write</text></g>
<g id="ce-intro"><rect class="b c" x="757" y="684" width="30" height="10" rx="2"/><text class="t3" x="760" y="690.3">Introduction</text></g>
<g id="ce-i1"><rect class="b c" x="829" y="672" width="80" height="12" rx="2"/><text class="t4" x="831.5" y="676.5"><tspan x="831.5">Background information on situation or</tspan><tspan x="831.5" dy="4.3">event</tspan></text></g>
<g id="ce-i2"><rect class="b c" x="829" y="688" width="54" height="8" rx="2"/><text class="t4" x="831.5" y="693.2">Thesis statement/ position</text></g>
<g id="ce-i3"><rect class="b c" x="829" y="702" width="77" height="12" rx="2"/><text class="t4" x="831.5" y="706.5"><tspan x="831.5">Overview of the causes and effects to be</tspan><tspan x="831.5" dy="4.3">discussed</tspan></text></g>
<g id="ce-body"><rect class="b c" x="758" y="796" width="41" height="10" rx="2"/><text class="t3" x="761" y="802.3">Body paragraphs</text></g>
<g id="ce-p1"><rect class="b c" x="836" y="731" width="26" height="7" rx="2"/><text class="t4" x="838.5" y="735.7">Paragraph 1</text></g>
<g id="ce-p1a"><rect class="b c" x="905" y="719" width="75" height="7" rx="2"/><text class="t5" x="907.5" y="723.6">Topic sentence outlining the first cause or effect</text></g>
<g id="ce-p1b"><rect class="b c" x="906" y="729" width="79" height="13" rx="2"/><text class="t4" x="908.5" y="733.8"><tspan x="908.5">Sentences giving explanations and evidence to</tspan><tspan x="908.5" dy="4.3">support topic sentence</tspan></text></g>
<g id="ce-p1c"><rect class="b c" x="905" y="746" width="85" height="8" rx="2"/><text class="t4" x="907.5" y="751.2">Concluding sentence – link to next paragraph</text></g>
<g id="ce-p2"><rect class="b c" x="837" y="773" width="25" height="9" rx="2"/><text class="t4" x="839.5" y="778.7">Paragraph 2</text></g>
<g id="ce-p2a"><rect class="b c" x="907" y="760" width="82" height="8" rx="2"/><text class="t4" x="909.5" y="765.2">Topic sentence outlining second cause or effect</text></g>
<g id="ce-p2b"><rect class="b c" x="905" y="772" width="80" height="13" rx="2"/><text class="t4" x="907.5" y="776.8"><tspan x="907.5">Sentences giving explanations and evidence to</tspan><tspan x="907.5" dy="4.3">support topic sentence</tspan></text></g>
<g id="ce-p2c"><rect class="b c" x="906" y="788" width="85" height="9" rx="2"/><text class="t4" x="908.5" y="793.7">Concluding sentence – link to next paragraph</text></g>
<g id="ce-cont"><rect class="b c" x="837" y="809" width="51" height="8" rx="2"/><text class="t4" x="839.5" y="814.2">Continuing body paragraphs</text></g>
<g id="ce-conta"><rect class="b c" x="921" y="802" width="86" height="11" rx="2"/><text class="t4" x="923.5" y="806.3"><tspan x="923.5">Follow the same structure for as many causes or</tspan><tspan x="923.5" dy="4.3">effects as you need to discuss</tspan></text></g>
<g id="ce-concl"><rect class="b c" x="757" y="833" width="28" height="9" rx="2"/><text class="t3" x="759.5" y="838.8">Conclusion</text></g>
<g id="ce-c1"><rect class="b c" x="828" y="823" width="75" height="8" rx="2"/><text class="t4" x="830.5" y="828.2">Summary of the main points of the essay</text></g>
<g id="ce-c2"><rect class="b c" x="828" y="836" width="82" height="8" rx="2"/><text class="t5" x="830.5" y="841.1">Conclusion, evaluation, recommendation, prediction</text></g>

<!-- CHECKLIST -->
<g id="checklist"><rect class="ctr" x="1344" y="453" width="67" height="28" rx="4"/><text class="tc" x="1377.5" y="465"><tspan x="1377.5">Essay writing</tspan><tspan x="1377.5" dy="9">checklist</tspan></text></g>
<g id="have"><rect class="b c" x="1296" y="429" width="26" height="12" rx="2.5"/><text class="t7" x="1299.5" y="437">Have I</text></g>
<g id="ck1"><rect class="b c" x="1178" y="364" width="70" height="16" rx="3"/><text class="t6" x="1183" y="370.5"><tspan x="1183">Understood the question</tspan><tspan x="1183" dy="6">correctly?</tspan></text></g>
<g id="ck2"><rect class="b c" x="1178" y="383" width="70" height="16" rx="3"/><text class="t6" x="1183" y="389.5"><tspan x="1183">Answered all parts of the</tspan><tspan x="1183" dy="6">question or task?</tspan></text></g>
<g id="ck3"><rect class="b c" x="1170" y="404" width="78" height="28" rx="3"/><text class="t6" x="1175" y="410.5"><tspan x="1175">Included a thesis statement</tspan><tspan x="1175" dy="6">(answer to a question or</tspan><tspan x="1175" dy="6">response to a task) and an</tspan><tspan x="1175" dy="6">appropriate argument?</tspan></text></g>
<g id="ck4"><rect class="b c" x="1168" y="437" width="81" height="21" rx="3"/><text class="t6" x="1173" y="443.5"><tspan x="1173">Developed my argument by</tspan><tspan x="1173" dy="6">using logical points which are</tspan><tspan x="1173" dy="6">well reasoned?</tspan></text></g>
<g id="ck5"><rect class="b c" x="1173" y="462" width="76" height="28" rx="3"/><text class="t6" x="1178" y="468.5"><tspan x="1178">Used information from</tspan><tspan x="1178" dy="6">academic texts or credible</tspan><tspan x="1178" dy="6">sources to support my</tspan><tspan x="1178" dy="6">argument?</tspan></text></g>
<g id="ck6"><rect class="b c" x="1169" y="496" width="80" height="34" rx="3"/><text class="t6" x="1174" y="502.5"><tspan x="1174">Included relevant examples,</tspan><tspan x="1174" dy="6">where necessary, from the</tspan><tspan x="1174" dy="6">supplied case study or other</tspan><tspan x="1174" dy="6">data to demonstrate</tspan><tspan x="1174" dy="6">application?</tspan></text></g>
<g id="ck7"><rect class="b c" x="1162" y="536" width="88" height="21" rx="3"/><text class="t6" x="1167" y="542.5"><tspan x="1167">Been analytical and</tspan><tspan x="1167" dy="6">demonstrated critical thinking in</tspan><tspan x="1167" dy="6">my essay?</tspan></text></g>
<g id="ck8"><rect class="b c" x="1169" y="562" width="80" height="21" rx="3"/><text class="t6" x="1174" y="568.5"><tspan x="1174">Proofread my work to check</tspan><tspan x="1174" dy="6">that each paragraph links to</tspan><tspan x="1174" dy="6">the previous or the thesis?</tspan></text></g>
<g id="ck9"><rect class="b c" x="1177" y="589" width="73" height="21" rx="3"/><text class="t6" x="1182" y="595.5"><tspan x="1182">Structured my essay in an</tspan><tspan x="1182" dy="6">introduction, body and</tspan><tspan x="1182" dy="6">conclusion</tspan></text></g>
<g id="ck10"><rect class="b c" x="1162" y="614" width="87" height="16" rx="3"/><text class="t6" x="1167" y="620.5"><tspan x="1167">Checked my spelling, grammar</tspan><tspan x="1167" dy="6">and punctuation</tspan></text></g>

<!-- WRITING AN ESSAY -->
<g id="writing"><rect class="ctr" x="1659" y="442" width="69" height="28" rx="4"/><text class="tw" x="1693.5" y="454.5"><tspan x="1693.5">Writing an</tspan><tspan x="1693.5" dy="9">Essay</tspan></text></g>
<g id="why"><rect class="b m" x="1553" y="444" width="65" height="21" rx="3"/><text class="t7" x="1558" y="452.5"><tspan x="1558">Why do we write</tspan><tspan x="1558" dy="8">essays?</tspan></text></g>
<g id="why1"><rect class="b m" x="1441" y="433" width="90" height="29" rx="3"/><text class="t6" x="1446" y="440.5"><tspan x="1446">Used as assessment at University</tspan><tspan x="1446" dy="7">to demonstrate your knowledge</tspan><tspan x="1446" dy="7">and understanding of a topic</tspan></text></g>
<g id="why2"><rect class="b m" x="1442" y="467" width="88" height="16" rx="3"/><text class="t6" x="1447" y="473.5"><tspan x="1447">Useful tool to promote thinking</tspan><tspan x="1447" dy="6">and learning</tspan></text></g>
<g id="what"><rect class="b c" x="1769" y="291" width="68" height="13" rx="3"/><text class="t7" x="1774" y="299.5">What is an essay?</text></g>
<g id="key"><rect class="b c" x="1858" y="283" width="41" height="11" rx="2.5"/><text class="t9" x="1861.5" y="290">Key Elements</text></g>
<g id="key1"><rect class="b c" x="1933" y="268" width="89" height="23" rx="3"/><text class="t8" x="1937" y="273.5"><tspan x="1937">An essay introduces the topic with a thesis</tspan><tspan x="1937" dy="4.7">statement (an answer to the question or</tspan><tspan x="1937" dy="4.7">a response to the task) and a well</tspan><tspan x="1937" dy="4.7">defined structure</tspan></text></g>
<g id="key2"><rect class="b c" x="1933" y="296" width="90" height="19" rx="3"/><text class="t8" x="1937" y="301"><tspan x="1937">A body with a coherent flow of paragraphs</tspan><tspan x="1937" dy="4.7">which include supporting evidence from</tspan><tspan x="1937" dy="4.7">academic sources</tspan></text></g>
<g id="key3"><rect class="b c" x="1933" y="318" width="85" height="19" rx="3"/><text class="t8" x="1937" y="323"><tspan x="1937">A clear conclusion which restates your topic,</tspan><tspan x="1937" dy="4.7">and summarises your arguments and</tspan><tspan x="1937" dy="4.7">ideas.</tspan></text></g>
<g id="howto"><rect class="b o" x="1770" y="470" width="83" height="12" rx="3"/><text class="t7" x="1775" y="478">How to write an essay</text></g>
<g id="how1"><rect class="b o" x="1867" y="459" width="79" height="22" rx="3"/><text class="t2" x="1872" y="465.5"><tspan x="1872">It is important to understand</tspan><tspan x="1872" dy="6">what type of essay you are</tspan><tspan x="1872" dy="6">required to write</tspan></text></g>
<g id="how2"><rect class="b o" x="1866" y="487" width="85" height="40" rx="3"/><text class="t2" x="1870.5" y="493.5"><tspan x="1870.5">The language of the question,</tspan><tspan x="1870.5" dy="6">especially the directive (task)</tspan><tspan x="1870.5" dy="6">words, will indicate the type of</tspan><tspan x="1870.5" dy="6">essay and suggest an</tspan><tspan x="1870.5" dy="6">appropriate structure to follow</tspan><tspan x="1870.5" dy="6">in your essay.</tspan></text></g>
</svg>
